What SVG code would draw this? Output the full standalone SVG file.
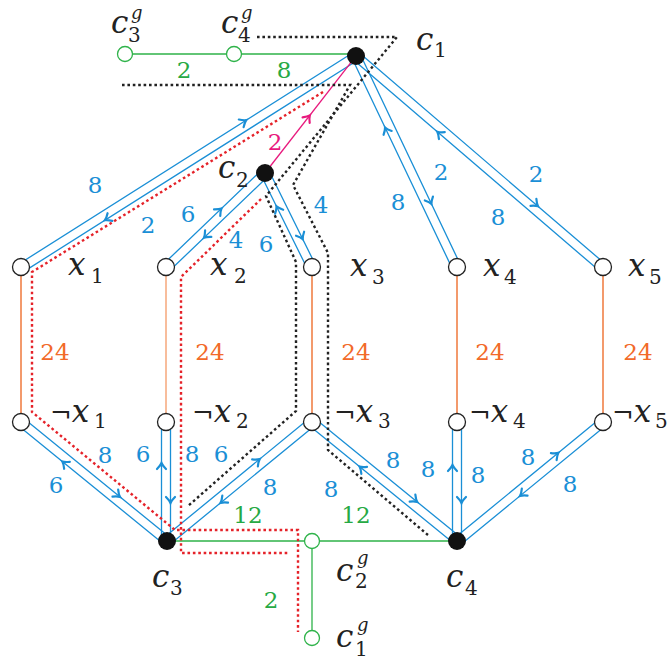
<svg xmlns="http://www.w3.org/2000/svg" width="669" height="660" viewBox="0 0 669 660">
<style>
.bl{fill:none;stroke:#1a8fd6;stroke-width:1.3}
.ah{stroke:#1a8fd6}
.gr{fill:none;stroke:#2fb34a;stroke-width:1.3}
.or{fill:none;stroke:#f07a3c;stroke-width:1.5}
.dk{fill:none;stroke:#222;stroke-width:2.4;stroke-dasharray:2.6 2.8}
.rd{fill:none;stroke:#e52229;stroke-width:2.4;stroke-dasharray:2.6 2.8}
.on{fill:#fff;stroke:#222;stroke-width:1.3}
.gn{fill:#fff;stroke:#2fb34a;stroke-width:1.3}
.fn{fill:#111}
text{font-family:'DejaVu Serif',serif}
.m{font-size:31px;font-style:italic;fill:#222}
.s{font-size:20px;fill:#222}
.g{font-size:18px;font-style:italic;fill:#222}
.n{font-size:26px;font-style:normal;fill:#222}
.w{font-size:23px;text-anchor:middle}
.wb{fill:#1a8fd6}.wg{fill:#27a944}.wo{fill:#f26a2a}.wm{fill:#e8197d}
</style>
<defs>
<path id="ah" d="M-5,-4.5 Q-1.5,-1 1,0 Q-1.5,1 -5,4.5" fill="none" stroke-width="2.2" stroke-linecap="round"/>
<path id="ahl" d="M5,-4.5 Q1.5,-1 -1,0 Q1.5,1 5,4.5" fill="none" stroke-width="2.2" stroke-linecap="round"/>
</defs>
<g id="connectors">
<path class="gr" d="M125,54H356M167,541H457M312,541V638"/>
<path class="or" d="M21,267V422M312,267V422M457,267V422M603,267V422"/>
<path class="or" style="stroke:#f6a77b" d="M166,267V422"/>
<g transform="translate(356,56) rotate(147.67)"><path class="bl" d="M0,4.5H396M0,-4.5H396"/><use href="#ahl" class="ah" x="128" y="4.5"/><use href="#ah" class="ah" x="299" y="-4.5"/></g>
<g transform="translate(265,173) rotate(136.2)"><path class="bl" d="M0,4.5H137M0,-4.5H137"/><use href="#ahl" class="ah" x="57" y="4.5"/><use href="#ah" class="ah" x="88" y="-4.5"/></g>
<g transform="translate(265,173) rotate(63.67)"><path class="bl" d="M0,4.5H106M0,-4.5H106"/><use href="#ahl" class="ah" x="36" y="4.5"/><use href="#ah" class="ah" x="75" y="-4.5"/></g>
<g transform="translate(356,56) rotate(64.53)"><path class="bl" d="M0,4.5H235M0,-4.5H235"/><use href="#ahl" class="ah" x="78" y="4.5"/><use href="#ah" class="ah" x="165" y="-4.5"/></g>
<g transform="translate(356,56) rotate(40.64)"><path class="bl" d="M0,4.5H325M0,-4.5H325"/><use href="#ahl" class="ah" x="112" y="4.5"/><use href="#ah" class="ah" x="235" y="-4.5"/></g>
<g transform="translate(21,422) rotate(39.18)"><path class="bl" d="M0,4.5H188M0,-4.5H188"/><use href="#ahl" class="ah" x="58" y="4.5"/><use href="#ah" class="ah" x="123" y="-4.5"/></g>
<g transform="translate(166,422) rotate(90)"><path class="bl" d="M0,4.5H119M0,-4.5H119"/><use href="#ahl" class="ah" x="42" y="4.5"/><use href="#ah" class="ah" x="80" y="-4.5"/></g>
<g transform="translate(312,422) rotate(140.63)"><path class="bl" d="M0,4.5H188M0,-4.5H188"/><use href="#ahl" class="ah" x="65" y="4.5"/><use href="#ah" class="ah" x="121" y="-4.5"/></g>
<g transform="translate(312,422) rotate(39.18)"><path class="bl" d="M0,4.5H188M0,-4.5H188"/><use href="#ahl" class="ah" x="66" y="4.5"/><use href="#ah" class="ah" x="131" y="-4.5"/></g>
<g transform="translate(457,422) rotate(90)"><path class="bl" d="M0,4.5H119M0,-4.5H119"/><use href="#ahl" class="ah" x="44" y="4.5"/><use href="#ah" class="ah" x="80" y="-4.5"/></g>
<g transform="translate(603,422) rotate(140.63)"><path class="bl" d="M0,4.5H188M0,-4.5H188"/><use href="#ahl" class="ah" x="55" y="4.5"/><use href="#ah" class="ah" x="110" y="-4.5"/></g>
<g transform="translate(265,173) rotate(-52.13)"><path d="M0,0H148" fill="none" stroke="#e8197d" stroke-width="1.3"/><use href="#ah" stroke="#e8197d" x="72" y="0"/></g>
<path class="dk" d="M257,37H397L266,196L296,262V411L188,506"/>
<path class="dk" d="M122,85H350L293,185L328,253V450L428,535"/>
<path class="rd" d="M323,92L32,272V412L175,530H298V632"/>
<path class="rd" d="M261,199L181,277V553H288"/>
</g>
<g id="weights" font-family="DejaVu Serif">
<text class="w wg" x="184" y="78">2</text><text class="w wg" x="284" y="78">8</text>
<text class="w wg" x="248" y="523">12</text><text class="w wg" x="356" y="523">12</text><text class="w wg" x="271" y="608">2</text>
<text class="w wo" x="55" y="360">24</text><text class="w wo" x="210" y="360">24</text><text class="w wo" x="356" y="360">24</text><text class="w wo" x="490" y="360">24</text><text class="w wo" x="638" y="360">24</text>
<text class="w wm" x="275" y="150">2</text>
<text class="w wb" x="95" y="193">8</text><text class="w wb" x="148" y="233">2</text>
<text class="w wb" x="188" y="222">6</text><text class="w wb" x="236" y="248">4</text>
<text class="w wb" x="266" y="252">6</text><text class="w wb" x="321" y="213">4</text>
<text class="w wb" x="398" y="210">8</text><text class="w wb" x="441" y="180">2</text>
<text class="w wb" x="536" y="182">2</text><text class="w wb" x="498" y="225">8</text>
<text class="w wb" x="105" y="463">8</text><text class="w wb" x="56" y="493">6</text>
<text class="w wb" x="143" y="462">6</text><text class="w wb" x="192" y="462">8</text>
<text class="w wb" x="221" y="462">6</text><text class="w wb" x="270" y="495">8</text>
<text class="w wb" x="331" y="497">8</text><text class="w wb" x="393" y="468">8</text>
<text class="w wb" x="428" y="477">8</text><text class="w wb" x="478" y="483">8</text>
<text class="w wb" x="528" y="465">8</text><text class="w wb" x="570" y="492">8</text>
</g>
<g id="c3g" font-family="DejaVu Serif"><circle class="gn" cx="125" cy="54" r="7.5"/><text class="m" x="111" y="33">c</text><text class="s" x="128" y="42">3</text><text class="g" x="131" y="19">g</text></g>
<g id="c4g" font-family="DejaVu Serif"><circle class="gn" cx="234" cy="54" r="7.5"/><text class="m" x="221" y="33">c</text><text class="s" x="238" y="42">4</text><text class="g" x="241" y="19">g</text></g>
<g id="c1" font-family="DejaVu Serif"><circle class="fn" cx="356" cy="56" r="9"/><text class="m" x="416" y="50">c</text><text class="s" x="434" y="57">1</text></g>
<g id="c2" font-family="DejaVu Serif"><circle class="fn" cx="265" cy="173" r="9"/><text class="m" x="218" y="178">c</text><text class="s" x="236" y="187">2</text></g>
<g id="x1" font-family="DejaVu Serif"><circle class="on" cx="21" cy="267" r="8.5"/><text class="m" x="68" y="275">x</text><text class="s" x="91" y="283">1</text></g>
<g id="x2" font-family="DejaVu Serif"><circle class="on" cx="166" cy="267" r="8.5"/><text class="m" x="210" y="275">x</text><text class="s" x="234" y="283">2</text></g>
<g id="x3" font-family="DejaVu Serif"><circle class="on" cx="312" cy="267" r="8.5"/><text class="m" x="350" y="276">x</text><text class="s" x="372" y="284">3</text></g>
<g id="x4" font-family="DejaVu Serif"><circle class="on" cx="457" cy="267" r="8.5"/><text class="m" x="483" y="276">x</text><text class="s" x="504" y="284">4</text></g>
<g id="x5" font-family="DejaVu Serif"><circle class="on" cx="603" cy="267" r="8.5"/><text class="m" x="628" y="276">x</text><text class="s" x="649" y="284">5</text></g>
<g id="nx1" font-family="DejaVu Serif"><circle class="on" cx="21" cy="422" r="8.5"/><text class="m" x="50" y="422"><tspan class="n">¬</tspan>x</text><text class="s" x="94" y="428">1</text></g>
<g id="nx2" font-family="DejaVu Serif"><circle class="on" cx="166" cy="422" r="8.5"/><text class="m" x="192" y="422"><tspan class="n">¬</tspan>x</text><text class="s" x="236" y="428">2</text></g>
<g id="nx3" font-family="DejaVu Serif"><circle class="on" cx="312" cy="422" r="8.5"/><text class="m" x="334" y="422"><tspan class="n">¬</tspan>x</text><text class="s" x="378" y="428">3</text></g>
<g id="nx4" font-family="DejaVu Serif"><circle class="on" cx="457" cy="422" r="8.5"/><text class="m" x="469" y="422"><tspan class="n">¬</tspan>x</text><text class="s" x="513" y="428">4</text></g>
<g id="nx5" font-family="DejaVu Serif"><circle class="on" cx="603" cy="422" r="8.5"/><text class="m" x="612" y="422"><tspan class="n">¬</tspan>x</text><text class="s" x="655" y="428">5</text></g>
<g id="c3" font-family="DejaVu Serif"><circle class="fn" cx="167" cy="541" r="9"/><text class="m" x="152" y="587">c</text><text class="s" x="170" y="595">3</text></g>
<g id="c4" font-family="DejaVu Serif"><circle class="fn" cx="457" cy="541" r="9"/><text class="m" x="446" y="587">c</text><text class="s" x="465" y="595">4</text></g>
<g id="c2g" font-family="DejaVu Serif"><circle class="gn" cx="312" cy="541" r="7.5"/><text class="m" x="336" y="581">c</text><text class="s" x="355" y="588">2</text><text class="g" x="357" y="564">g</text></g>
<g id="c1g" font-family="DejaVu Serif"><circle class="gn" cx="312" cy="638" r="7.5"/><text class="m" x="336" y="647">c</text><text class="s" x="355" y="656">1</text><text class="g" x="357" y="631">g</text></g>
</svg>
